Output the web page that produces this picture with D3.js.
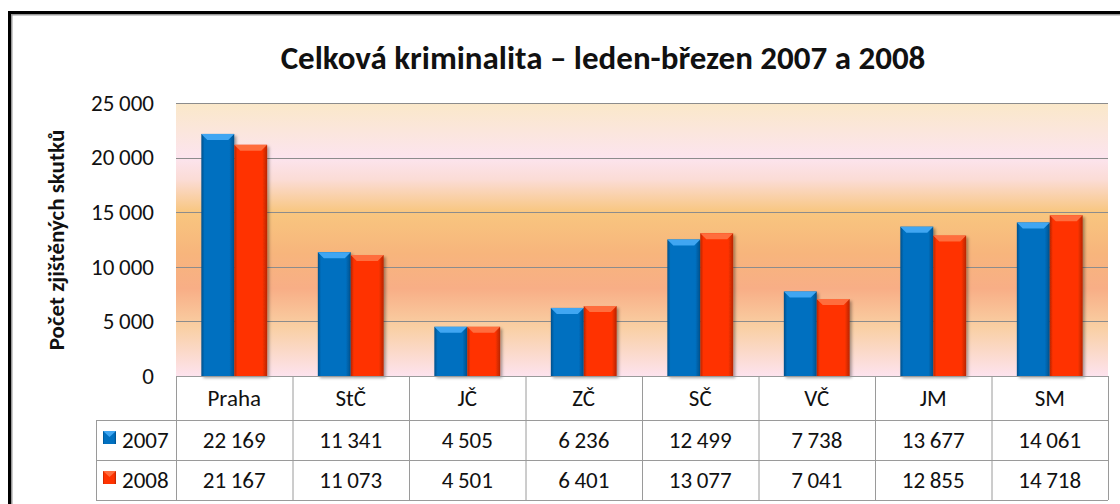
<!DOCTYPE html>
<html>
<head>
<meta charset="utf-8">
<script src="https://cdn.jsdelivr.net/npm/d3@7"></script>
<style>
  body { margin: 0; background: #fff; }
  svg text { font-family: Carlito, Lato, "Open Sans", sans-serif; fill: #111; }
</style>
</head>
<body>
<div id="chart"></div>
<script>
// chart values
var regions = ["Praha", "StČ", "JČ", "ZČ", "SČ", "VČ", "JM", "SM"];
var years = ["2007", "2008"];
var values2007 = [22169, 11341, 4505, 6236, 12499, 7738, 13677, 14061];
var values2008 = [21167, 11073, 4501, 6401, 13077, 7041, 12855, 14718];
var yTicks = [0, 5000, 10000, 15000, 20000, 25000];

var svgWidth = 1120;
var svgHeight = 504;

var margin = { top: 103, right: 12, bottom: 128, left: 176 };
var chartWidth = svgWidth - margin.left - margin.right;
var chartHeight = svgHeight - margin.top - margin.bottom;

var colors = { "2007": "#0070c0", "2008": "#ff3300" };
var darks = { "2007": "#004f8a", "2008": "#b82500" };
var lights = { "2007": "#3fa6f2", "2008": "#ff6d3e" };

var svg = d3.select("#chart").append("svg")
  .attr("width", svgWidth)
  .attr("height", svgHeight);

var defs = svg.append("defs");

// plot background gradient
var bg = defs.append("linearGradient").attr("id", "bg")
  .attr("x1", 0).attr("y1", 0).attr("x2", 0).attr("y2", 1);
[[0, "#fae8c9"], [0.2, "#fce4ee"], [0.28, "#fbdcd6"], [0.4, "#f8c67f"], [0.55, "#f7b57c"],
 [0.68, "#f8ae86"], [0.82, "#f9cfa3"], [1, "#fde3ee"]].forEach(function(s) {
  bg.append("stop").attr("offset", s[0]).attr("stop-color", s[1]);
});

years.forEach(function(y) {
  var g = defs.append("linearGradient").attr("id", "bar" + y)
    .attr("x1", 0).attr("y1", 0).attr("x2", 1).attr("y2", 0);
  g.append("stop").attr("offset", 0).attr("stop-color", darks[y]);
  g.append("stop").attr("offset", 0.1).attr("stop-color", colors[y]);
  g.append("stop").attr("offset", 0.85).attr("stop-color", colors[y]);
  g.append("stop").attr("offset", 1).attr("stop-color", darks[y]);
});

var shadow = defs.append("filter").attr("id", "shadow")
  .attr("x", "-20%").attr("y", "-5%").attr("width", "150%").attr("height", "115%");
shadow.append("feDropShadow").attr("dx", 2).attr("dy", 2)
  .attr("stdDeviation", 1.5).attr("flood-color", "#000").attr("flood-opacity", 0.35);

// outer frame
svg.append("rect")
  .attr("x", 11.5).attr("y", 14.5)
  .attr("width", 1200).attr("height", 600)
  .attr("fill", "none").attr("stroke", "#999").attr("stroke-width", 2);
svg.append("rect")
  .attr("x", 9.5).attr("y", 12.5)
  .attr("width", 1200).attr("height", 600)
  .attr("fill", "none").attr("stroke", "#000").attr("stroke-width", 3);

// title
svg.append("text")
  .attr("x", 603).attr("y", 69)
  .attr("text-anchor", "middle")
  .style("font-size", "33px").style("font-weight", "bold")
  .text("Celková kriminalita – leden-březen 2007 a 2008");

var chartGroup = svg.append("g")
  .attr("transform", `translate(${margin.left}, ${margin.top})`);

var xScale = d3.scaleBand().domain(regions).range([0, chartWidth]);
var xSeries = d3.scaleBand().domain(years).range([0, xScale.bandwidth()]).paddingOuter(0.77);
var yScale = d3.scaleLinear().domain([0, 25000]).range([chartHeight, 0]);

chartGroup.append("rect")
  .attr("width", chartWidth).attr("height", chartHeight)
  .attr("fill", "url(#bg)");

// gridlines
chartGroup.selectAll(".grid")
  .data(yTicks.slice(1))
  .enter().append("line")
  .attr("x1", 0).attr("x2", chartWidth)
  .attr("y1", d => Math.round(yScale(d)) + 0.5)
  .attr("y2", d => Math.round(yScale(d)) + 0.5)
  .attr("stroke", "#8c8c8c").attr("stroke-width", 1.2);

// y axis
var numFmt = d => d3.format(",")(d).replace(",", "\u2009");
var leftAxis = d3.axisLeft(yScale).tickValues(yTicks).tickSize(0).tickPadding(22)
  .tickFormat(numFmt);
var yAxisG = chartGroup.append("g").call(leftAxis);
yAxisG.select(".domain").remove();
yAxisG.selectAll("text").style("font-size", "23px").attr("fill", "#111");

svg.append("text")
  .attr("transform", "translate(64, 240) rotate(-90)")
  .attr("text-anchor", "middle")
  .style("font-size", "23px").style("font-weight", "bold")
  .text("Počet zjištěných skutků");

// bars
var seriesData = years.map(function(y, i) {
  var vals = i === 0 ? values2007 : values2008;
  return regions.map(function(r, j) { return { year: y, region: r, value: vals[j] }; });
});

var bevel = 6;
seriesData.forEach(function(series) {
  var g = chartGroup.append("g").attr("filter", "url(#shadow)");
  var bars = g.selectAll("g.bar").data(series).enter().append("g").attr("class", "bar");
  bars.append("rect")
    .attr("x", d => xScale(d.region) + xSeries(d.year))
    .attr("y", d => yScale(d.value))
    .attr("width", xSeries.bandwidth())
    .attr("height", d => chartHeight - yScale(d.value))
    .attr("fill", d => "url(#bar" + d.year + ")");
  bars.append("polygon")
    .attr("points", function(d) {
      var x0 = xScale(d.region) + xSeries(d.year);
      var x1 = x0 + xSeries.bandwidth();
      var y0 = yScale(d.value);
      return [[x0, y0], [x1, y0], [x1 - bevel, y0 + bevel], [x0 + bevel, y0 + bevel]].join(" ");
    })
    .attr("fill", d => lights[d.year]);
});

// data table
var rowH = [44, 40, 40];
var tableTop = chartHeight;
var tableLeft = -80;
var tableBottom = tableTop + rowH[0] + rowH[1] + rowH[2];
var tg = chartGroup.append("g").attr("class", "table");
var lineColor = "#9a9a9a";

// vertical lines at category boundaries
tg.selectAll(".vline")
  .data(regions.concat(["end"]))
  .enter().append("line")
  .attr("x1", d => (d === "end" ? chartWidth : xScale(d)) + 0.5)
  .attr("x2", d => (d === "end" ? chartWidth : xScale(d)) + 0.5)
  .attr("y1", tableTop).attr("y2", tableBottom)
  .attr("stroke", lineColor);
// left edge of the legend column
tg.append("line")
  .attr("x1", tableLeft + 0.5).attr("x2", tableLeft + 0.5)
  .attr("y1", tableTop + rowH[0]).attr("y2", tableBottom)
  .attr("stroke", lineColor);
// horizontal lines
tg.append("line").attr("x1", 0).attr("x2", chartWidth)
  .attr("y1", tableTop + 0.5).attr("y2", tableTop + 0.5).attr("stroke", lineColor);
[tableTop + rowH[0], tableTop + rowH[0] + rowH[1], tableBottom].forEach(function(yy) {
  tg.append("line").attr("x1", tableLeft).attr("x2", chartWidth)
    .attr("y1", yy + 0.5).attr("y2", yy + 0.5).attr("stroke", lineColor);
});

// header text
tg.selectAll(".cat")
  .data(regions)
  .enter().append("text")
  .attr("x", d => xScale(d) + xScale.bandwidth() / 2)
  .attr("y", tableTop + 30)
  .attr("text-anchor", "middle")
  .style("font-size", "23px")
  .text(d => d);

seriesData.forEach(function(series, i) {
  var rowY = tableTop + rowH[0] + i * rowH[1];
  tg.selectAll(".val" + i)
    .data(series)
    .enter().append("text")
    .attr("x", d => xScale(d.region) + xScale.bandwidth() / 2)
    .attr("y", rowY + 28)
    .attr("text-anchor", "middle")
    .style("font-size", "23px")
    .text(d => numFmt(d.value));
  // legend key
  var y = years[i];
  tg.append("rect")
    .attr("x", tableLeft + 7).attr("y", rowY + 11)
    .attr("width", 13).attr("height", 13)
    .attr("fill", "url(#bar" + y + ")");
  tg.append("polygon")
    .attr("points", [[tableLeft + 7, rowY + 11], [tableLeft + 20, rowY + 11], [tableLeft + 13.5, rowY + 17]].join(" "))
    .attr("fill", lights[y]);
  tg.append("text")
    .attr("x", tableLeft + 26).attr("y", rowY + 28)
    .style("font-size", "23px")
    .text(y);
});
</script>
</body>
</html>
